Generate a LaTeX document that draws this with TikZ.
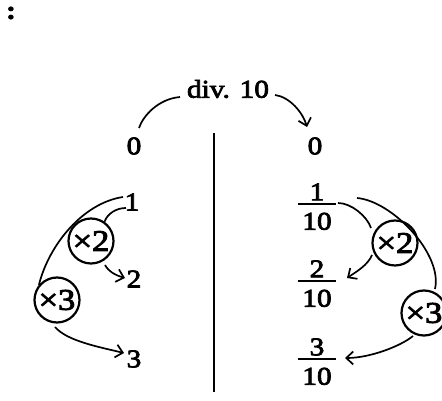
\documentclass[tikz,border=0pt]{standalone}
\usepackage{fontspec}
\setmainfont{Liberation Serif}[FakeStretch=1.15,FakeBold=3]
\usetikzlibrary{arrows.meta}
\newcommand{\myfr}[2]{\setlength{\arrayrulewidth}{1.4pt}\begin{tabular}{@{}c@{}}#1\\[-6pt]\hline\rule{0pt}{25pt}\,#2\,\end{tabular}}
\tikzset{
  txt/.style={inner sep=0pt, font=\fontsize{25.5}{30}\selectfont},
  frc/.style={inner sep=0pt, font=\fontsize{25.5}{30}\selectfont},
  opc/.style={circle, draw, line width=2.2pt, minimum size=45pt, inner sep=0pt, font=\fontsize{30}{34}\selectfont},
  ln/.style={line width=1.7pt},
  arr/.style={line width=1.7pt, -{Straight Barb[length=7pt,width=13pt]}}
}
\begin{document}
\begin{tikzpicture}[x=1pt,y=1pt]
\fill[white] (0,0) rectangle (442,401);
\useasboundingbox (0,0) rectangle (442,401);
% colon
\node[txt] (colon) at (11,388) {\textbf{:}};
% title
\node[txt] (div) at (228,312) {div. 10};
% left column
\node[txt] (L0) at (134,255) {0};
\node[txt] (L1) at (132,199) {1};
\node[txt] (L2) at (134,122) {2};
\node[txt] (L3) at (134,42) {3};
% right column
\node[txt] (R0) at (315,255) {0};
\node[frc] (F1) at (317,192) {\myfr{1}{10}};
\node[frc] (F2) at (317,115) {\myfr{2}{10}};
\node[frc] (F3) at (317,37) {\myfr{3}{10}};
% operator circles
\node[opc] (CL2) at (91,160) {×2};
\node[opc] (CL3) at (57,101) {×3};
\node[opc] (CR2) at (395,158) {×2};
\node[opc] (CR3) at (424,88) {×3};
% divider
\coordinate (vt) at (214,268);
\coordinate (vb) at (214,9);
\draw[line width=1.7pt] (vt) -- (vb);
% top curves
\draw[ln] ([shift={(-48,-8)}]div.center) .. controls +(-22,-2) and +(4,12) .. ([shift={(5,18)}]L0.center);
\draw[arr] ([shift={(47,-6)}]div.center) .. controls +(15,-2) and +(-4,14) .. ([shift={(-8,19)}]R0.center);
% left side
\draw[ln] ([shift={(-9,5)}]L1.center) .. controls +(-40,-6) and +(10,40) .. (CL3.140);
\draw[ln] (CL2.55) .. controls +(3,8) and +(-10,0) .. ([shift={(-6,-6)}]L1.center);
\draw[arr] ([shift={(14,-24)}]CL2.center) .. controls +(4,-7) and +(-10,3) .. ([shift={(-9,1)}]L2.center);
\draw[arr] ([shift={(-2,-27)}]CL3.center) .. controls +(12,-14) and +(-25,6) .. ([shift={(-10,6)}]L3.center);
% right side
\draw[ln] ([shift={(21,6)}]F1.center) .. controls +(13,0) and +(-4,12) .. ([shift={(-24,15)}]CR2.center);
\draw[arr] ([shift={(-23,-12)}]CR2.center) .. controls +(-4,-10) and +(9,6) .. ([shift={(30,8)}]F2.center);
\draw[ln] ([shift={(40,11)}]F1.center) .. controls +(35,-3) and +(8,35) .. ([shift={(11,24)}]CR3.center);
\draw[arr] ([shift={(-11,-23)}]CR3.center) .. controls +(-12,-10) and +(25,0) .. ([shift={(28,6)}]F3.center);
\end{tikzpicture}
\end{document}
